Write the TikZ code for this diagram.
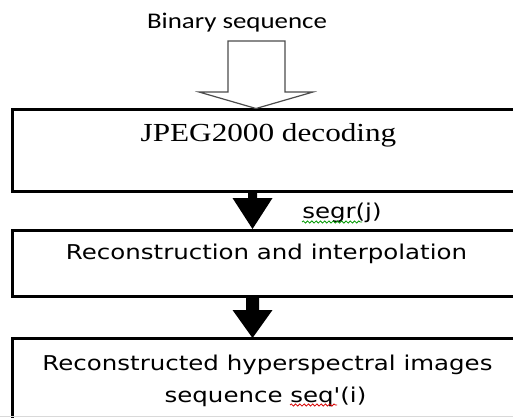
\documentclass[tikz,border=0pt]{standalone}
\usepackage{fontspec}
\usetikzlibrary{calc,decorations.pathmorphing}
\newfontfamily\calfont[FakeStretch=1.2]{Carlito}
\newfontfamily\boxfont[FakeStretch=1.2]{DejaVu Sans}
\newfontfamily\serfont[FakeStretch=1.2]{Liberation Serif}
\begin{document}
\begin{tikzpicture}[x=0.75pt,y=-0.75pt,
  box/.style={draw=black, line width=2.25pt, rectangle, anchor=north west,
    minimum width=500pt, inner sep=0pt, outer sep=0pt},
  boxtext/.style={anchor=base, inner sep=0pt, font=\boxfont\fontsize{15.3}{18}\selectfont},
  soliddart/.style={fill=black},
  hollowdart/.style={draw=black!70, line width=0.9pt, fill=white, line join=miter},
  squiggle/.style={line width=0.6pt, decorate,
    decoration={snake, segment length=3.2pt, amplitude=0.8pt}}]
\useasboundingbox (0,0) rectangle (513,417);
\clip (0,0) rectangle (513,417);
\fill[white] (0,0) rectangle (513,417);

% boxes
\node[box, minimum height=61.5pt] (box1) at (12.5,109.5) {};
\node[box, minimum height=49.5pt] (box2) at (12.5,230) {};
\node[box, minimum height=75pt] (box3) at (12.5,338.5) {};

% texts
\node[anchor=base, inner sep=0pt, font=\calfont\fontsize{16.8}{20}\selectfont] (bin) at (237,29) {Binary sequence};
\node[anchor=base, inner sep=0pt, font=\serfont\fontsize{19.5}{23}\selectfont] (t1) at (268.5,142) {JPEG2000 decoding};
\node[boxtext] (t2) at (266.5,259.7) {Reconstruction and interpolation};
\node[boxtext, anchor=base west] (segr) at (302,218.5) {segr(j)};
\node[boxtext] (t3a) at (267.5,370) {Reconstructed hyperspectral images};
\node[boxtext] (t3b) at (265.5,402) {sequence seq'(i)};

% spell-check squiggles
\draw[squiggle, green!60!black] ($(segr.base west)+(0,3.5)$) -- ++(60,0);
\draw[squiggle, red!85!black] (290,405) -- (337,405);

% hollow input arrow
\coordinate (hx) at (256,0);
\draw[hollowdart] ($(hx)+(-28,41)$) -- ($(hx)+(29,41)$) -- ($(hx)+(29,92)$)
  -- ($(hx)+(57,92)$) -- ($(hx |- box1.north)+(0,-1)$) -- ($(hx)+(-57,92)$)
  -- ($(hx)+(-28,92)$) -- cycle;

% solid arrows
\coordinate (ax) at (252.5,0);
\fill[soliddart] ($(ax |- box1.south)+(-4.5,0)$) -- ($(ax |- box1.south)+(-4.5,6.5)$)
  -- ($(ax |- box1.south)+(-20,6.5)$) -- ($(ax |- box2.north)+(0,-1)$)
  -- ($(ax |- box1.south)+(20,6.5)$) -- ($(ax |- box1.south)+(4.5,6.5)$)
  -- ($(ax |- box1.south)+(4.5,0)$) -- cycle;
\fill[soliddart] ($(ax |- box2.south)+(-6.5,0)$) -- ($(ax |- box2.south)+(-6.5,14)$)
  -- ($(ax |- box2.south)+(-20,14)$) -- ($(ax |- box3.north)+(0,-0.5)$)
  -- ($(ax |- box2.south)+(20,14)$) -- ($(ax |- box2.south)+(6.5,14)$)
  -- ($(ax |- box2.south)+(6.5,0)$) -- cycle;

% faint lower border
\draw[black!15, line width=0.75pt] (0,416) -- (513,416);
\end{tikzpicture}
\end{document}
